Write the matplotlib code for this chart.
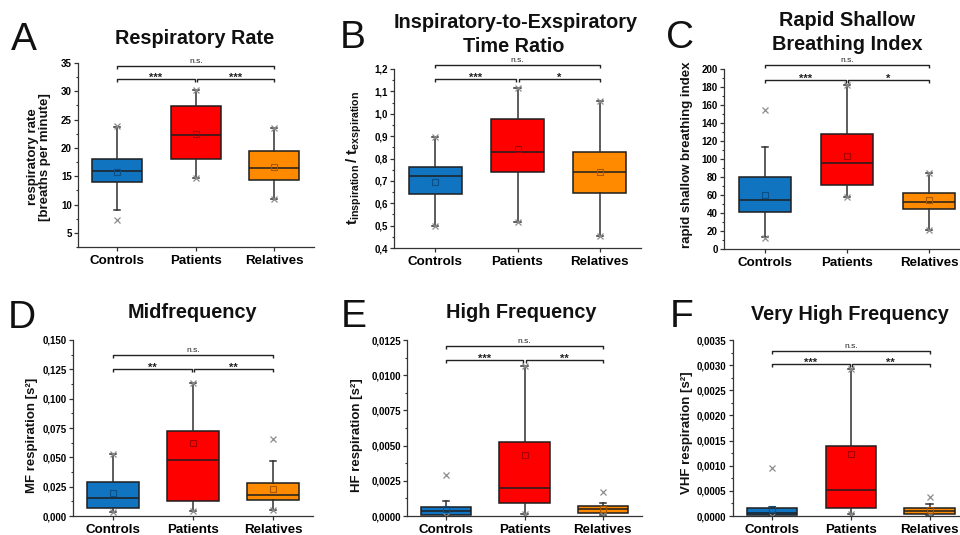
import matplotlib
matplotlib.use('Agg')
import matplotlib.pyplot as plt
import matplotlib.transforms as mtransforms
from matplotlib.ticker import MultipleLocator, AutoMinorLocator, FuncFormatter

plt.rcParams['font.family'] = ['Liberation Sans', 'DejaVu Sans']
plt.rcParams['mathtext.fontset'] = 'custom'
plt.rcParams['mathtext.bf'] = 'Liberation Sans:bold'
plt.rcParams['mathtext.rm'] = 'Liberation Sans'
plt.rcParams['mathtext.it'] = 'Liberation Sans:italic'

groups = ['Controls', 'Patients', 'Relatives']
box_colors = ['#1174c0', '#ff0000', '#ff8a00']
mean_colors = ['#0b4f85', '#a80000', '#a85800']

# ---- Panel A: Respiratory Rate ----
a_whislo = [9.0, 14.6, 10.9]
a_q1 = [13.9, 18.0, 14.4]
a_med = [16.0, 22.3, 16.4]
a_q3 = [18.0, 27.4, 19.5]
a_whishi = [23.7, 30.2, 23.5]
a_mean = [15.7, 22.4, 16.6]
a_ext = [[7.3, 23.8], [14.6, 30.2], [10.9, 23.5]]
a_sig = ['***', '***', 'n.s.']

# ---- Panel B: I:E ratio ----
b_whislo = [0.50, 0.516, 0.455]
b_q1 = [0.641, 0.739, 0.647]
b_med = [0.72, 0.831, 0.738]
b_q3 = [0.764, 0.978, 0.828]
b_whishi = [0.895, 1.117, 1.058]
b_mean = [0.696, 0.843, 0.74]
b_ext = [[0.50, 0.895], [0.516, 1.117], [0.455, 1.058]]
b_sig = ['***', '*', 'n.s.']

# ---- Panel C: RSBI ----
c_whislo = [13, 57.6, 21.5]
c_q1 = [41.6, 71, 44.6]
c_med = [54.6, 96, 52.8]
c_q3 = [80.3, 128, 62]
c_whishi = [113, 182, 85]
c_mean = [60, 103, 54]
c_ext = [[12, 155], [57.6, 182], [21.5, 85]]
c_sig = ['***', '*', 'n.s.']

# ---- Panel D: Midfrequency ----
d_whislo = [0.0030, 0.0043, 0.0054]
d_q1 = [0.0070, 0.0129, 0.0137]
d_med = [0.0157, 0.0477, 0.0177]
d_q3 = [0.0290, 0.0723, 0.0277]
d_whishi = [0.0528, 0.113, 0.0469]
d_mean = [0.0196, 0.062, 0.0229]
d_ext = [[0.0030, 0.0528], [0.0043, 0.113], [0.0054, 0.0654]]
d_sig = ['**', '**', 'n.s.']

# ---- Panel E: High Frequency ----
e_whislo = [0.0, 0.00017, 0.00005]
e_q1 = [0.00005, 0.00093, 0.00019]
e_med = [0.00033, 0.0020, 0.0005]
e_q3 = [0.00062, 0.00526, 0.00074]
e_whishi = [0.00107, 0.01067, 0.00093]
e_mean = [0.0005, 0.00431, 0.00052]
e_ext = [[0.0, 0.00293], [0.00017, 0.01067], [0.00005, 0.00174]]
e_sig = ['***', '**', 'n.s.']

# ---- Panel F: Very High Frequency ----
f_whislo = [0.0, 0.000046, 0.00002]
f_q1 = [0.000013, 0.000165, 0.000046]
f_med = [0.000066, 0.00052, 0.0001]
f_q3 = [0.000152, 0.00139, 0.000159]
f_whishi = [0.00018, 0.00292, 0.00023]
f_mean = [0.000145, 0.00124, 0.00012]
f_ext = [[0.0, 0.00096], [0.000046, 0.00292], [0.00002, 0.00037]]
f_sig = ['***', '**', 'n.s.']

W, H = 960, 535
fig = plt.figure(figsize=(W / 100, H / 100), dpi=100)

EDGE = '#1e1e1e'


def fx(x):
    return x / W


def fy(y):
    return 1 - y / H


panels = [
    dict(box=(78, 313.5, 63, 247), data=(a_whislo, a_q1, a_med, a_q3, a_whishi, a_mean, a_ext), sig=a_sig,
         ylim=(2.5, 35), major=5, dec=0, br=(0.986, 0.912)),
    dict(box=(394, 641, 69, 248), data=(b_whislo, b_q1, b_med, b_q3, b_whishi, b_mean, b_ext), sig=b_sig,
         ylim=(0.4, 1.2), major=0.1, dec=1, br=(1.022, 0.944)),
    dict(box=(724, 970, 69.3, 249), data=(c_whislo, c_q1, c_med, c_q3, c_whishi, c_mean, c_ext), sig=c_sig,
         ylim=(0, 200), major=20, dec=0, br=(1.022, 0.939)),
    dict(box=(73, 313, 340, 516), data=(d_whislo, d_q1, d_med, d_q3, d_whishi, d_mean, d_ext), sig=d_sig,
         ylim=(0, 0.15), major=0.025, dec=3, br=(0.914, 0.834)),
    dict(box=(407, 642, 340, 516), data=(e_whislo, e_q1, e_med, e_q3, e_whishi, e_mean, e_ext), sig=e_sig,
         ylim=(0, 0.0125), major=0.0025, dec=4, br=(0.966, 0.886)),
    dict(box=(732.5, 969, 340, 516), data=(f_whislo, f_q1, f_med, f_q3, f_whishi, f_mean, f_ext), sig=f_sig,
         ylim=(0, 0.0035), major=0.0005, dec=4, br=(0.938, 0.864)),
]

for p in panels:
    x0, x1, yt, yb = p['box']
    ax = fig.add_axes([fx(x0), fy(yb), (x1 - x0) / W, (yb - yt) / H])
    whislo, q1, med, q3, whishi, mean, ext = p['data']
    stats = []
    for i in range(3):
        stats.append(dict(label=groups[i], whislo=whislo[i], q1=q1[i], med=med[i], q3=q3[i],
                          whishi=whishi[i], mean=mean[i], fliers=ext[i]))
    bp = ax.bxp(stats, positions=[1, 2, 3], widths=0.64, patch_artist=True, showmeans=True,
                capwidths=0.08,
                boxprops=dict(edgecolor=EDGE, linewidth=1.1),
                medianprops=dict(color=EDGE, linewidth=1.1),
                whiskerprops=dict(color='#303030', linewidth=1.1),
                capprops=dict(color='#303030', linewidth=1.1),
                meanprops=dict(marker='s', markerfacecolor='none', markersize=4, markeredgewidth=0.8),
                flierprops=dict(marker='x', markeredgecolor='#8c8c8c', markersize=4.5, markeredgewidth=0.9))
    for i, patch in enumerate(bp['boxes']):
        patch.set_facecolor(box_colors[i])
    for i, m in enumerate(bp['means']):
        m.set_markeredgecolor(mean_colors[i])
        m.set_zorder(4)

    ax.set_xlim(0.5, 3.5)
    ax.set_ylim(*p['ylim'])
    ax.spines['top'].set_visible(False)
    ax.spines['right'].set_visible(False)
    for s in ('left', 'bottom'):
        ax.spines[s].set_color('#333333')
        ax.spines[s].set_linewidth(0.9)
    ax.set_xticks([1, 2, 3])
    ax.set_xticklabels(groups, fontsize=9.6, fontweight='bold')
    ax.yaxis.set_major_locator(MultipleLocator(p['major']))
    ax.yaxis.set_minor_locator(AutoMinorLocator(2))
    dec = p['dec']
    ax.yaxis.set_major_formatter(FuncFormatter(lambda v, pos, d=dec: f'{v:.{d}f}'.replace('.', ',')))
    ax.tick_params(axis='y', which='major', length=3, width=0.9, color='#333333', labelsize=7, pad=1.5)
    ax.tick_params(axis='y', which='minor', length=1.8, width=0.8, color='#333333')
    ax.tick_params(axis='x', which='major', length=3, width=0.9, color='#333333', pad=3)
    for lab in ax.get_yticklabels():
        lab.set_fontweight('bold')

    # significance brackets
    trans = mtransforms.blended_transform_factory(ax.transData, ax.transAxes)
    hpx = yb - yt
    tk = 3.0 / hpx
    ns_y, lo_y = p['br']

    def bracket(xa, xb, y, label, ns=False):
        ax.plot([xa, xa, xb, xb], [y - tk, y, y, y - tk], transform=trans, color='#222222',
                lw=1.0, clip_on=False, solid_capstyle='butt')
        if ns:
            ax.text((xa + xb) / 2, y + 3.0 / hpx, label, transform=trans, ha='center', va='baseline',
                    fontsize=6, color='#222222')
        else:
            ax.text((xa + xb) / 2, y - 1.7 / hpx, label, transform=trans, ha='center', va='baseline',
                    fontsize=8, fontweight='bold', color='#222222')

    s1, s2, s3 = p['sig']
    bracket(1, 3, ns_y, s3, ns=True)
    bracket(1, 1.985, lo_y, s1)
    bracket(2.015, 3, lo_y, s2)

# Titles
tkw = dict(fontsize=14.3, fontweight='bold', ha='center', va='center', color='#111111')
fig.text(fx(195), fy(38), 'Respiratory Rate', **tkw)
fig.text(fx(516), fy(23), 'Inspiratory-to-Exspiratory', **tkw)
fig.text(fx(514), fy(47), 'Time Ratio', **tkw)
fig.text(fx(847), fy(20), 'Rapid Shallow', **tkw)
fig.text(fx(847), fy(45), 'Breathing Index', **tkw)
fig.text(fx(192), fy(313), 'Midfrequency', **tkw)
fig.text(fx(521), fy(313), 'High Frequency', **tkw)
fig.text(fx(850), fy(314), 'Very High Frequency', **tkw)

# Panel letters
lkw = dict(fontsize=28, ha='left', va='baseline', color='#111111')
fig.text(fx(11), fy(50), 'A', **lkw)
fig.text(fx(340), fy(48), 'B', **lkw)
fig.text(fx(666), fy(48), 'C', **lkw)
fig.text(fx(8), fy(328), 'D', **lkw)
fig.text(fx(341), fy(327), 'E', **lkw)
fig.text(fx(670), fy(327), 'F', **lkw)

# Y labels
ykw = dict(fontsize=9.5, fontweight='bold', rotation=90, ha='center', va='center', color='#111111')
fig.text(fx(33), fy(157), 'respiratory rate', **ykw)
fig.text(fx(45), fy(157), '[breaths per minute]', **ykw)
fig.text(fx(354), fy(158),
         r'$\mathbf{t}_{\mathbf{inspiration}}\,\mathbf{/\ t}_{\mathbf{exspiration}}$',
         fontsize=11, rotation=90, ha='center', va='center', color='#111111')
fig.text(fx(687), fy(155), 'rapid shallow breathing index', **ykw)
fig.text(fx(32), fy(435), 'MF respiration [s²]', **ykw)
fig.text(fx(357), fy(435), 'HF respiration [s²]', **ykw)
fig.text(fx(687), fy(433), 'VHF respiration [s²]', **ykw)

fig.savefig('out.png', dpi=100)
